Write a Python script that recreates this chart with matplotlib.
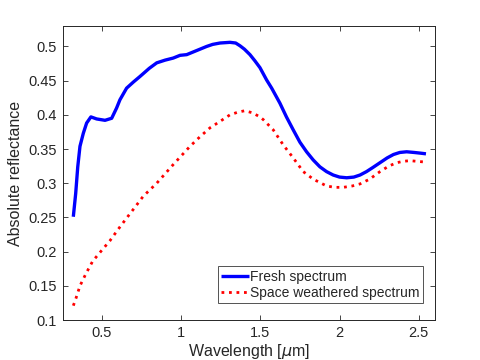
import matplotlib
matplotlib.use("Agg")
import matplotlib.pyplot as plt
from matplotlib.ticker import FuncFormatter

# Values
fresh_wl = [0.321, 0.336, 0.349, 0.363, 0.384, 0.405, 0.432, 0.468, 0.521,
            0.563, 0.594, 0.615, 0.657, 0.70, 0.741, 0.80, 0.847, 0.90,
            0.951, 0.994, 1.036, 1.078, 1.12, 1.162, 1.20, 1.246, 1.309,
            1.345, 1.372, 1.40, 1.435, 1.466, 1.498, 1.54, 1.572, 1.624,
            1.665, 1.708, 1.75, 1.792, 1.834, 1.876, 1.918, 1.96, 2.00,
            2.045, 2.09, 2.129, 2.17, 2.21, 2.255, 2.30, 2.34, 2.38,
            2.423, 2.47, 2.51, 2.545]
fresh_refl = [0.251, 0.285, 0.324, 0.354, 0.373, 0.388, 0.397, 0.394, 0.392,
              0.395, 0.410, 0.422, 0.439, 0.448, 0.456, 0.468, 0.476, 0.480,
              0.483, 0.487, 0.488, 0.492, 0.496, 0.500, 0.503, 0.505, 0.506,
              0.505, 0.501, 0.496, 0.488, 0.479, 0.469, 0.451, 0.439, 0.417,
              0.397, 0.378, 0.360, 0.346, 0.334, 0.324, 0.317, 0.312, 0.309,
              0.308, 0.309, 0.312, 0.317, 0.323, 0.330, 0.337, 0.342, 0.345,
              0.346, 0.345, 0.344, 0.343]

weathered_wl = [0.321, 0.338, 0.363, 0.401, 0.443, 0.497, 0.552, 0.605, 0.657,
                0.71, 0.762, 0.847, 0.95, 1.057, 1.12, 1.183, 1.25, 1.309,
                1.36, 1.403, 1.45, 1.498, 1.519, 1.582, 1.645, 1.708, 1.771,
                1.834, 1.918, 1.97, 2.023, 2.08, 2.129, 2.19, 2.255, 2.31,
                2.36, 2.40, 2.444, 2.49, 2.538]
weathered_refl = [0.121, 0.132, 0.150, 0.168, 0.186, 0.201, 0.216, 0.233, 0.249,
                  0.265, 0.281, 0.300, 0.327, 0.354, 0.368, 0.381, 0.391, 0.400,
                  0.404, 0.406, 0.403, 0.397, 0.393, 0.378, 0.356, 0.337, 0.317,
                  0.306, 0.296, 0.294, 0.294, 0.296, 0.299, 0.306, 0.317, 0.325,
                  0.330, 0.332, 0.333, 0.332, 0.331]

x_ticks = [0.5, 1, 1.5, 2, 2.5]
y_ticks = [0.1, 0.15, 0.2, 0.25, 0.3, 0.35, 0.4, 0.45, 0.5]

plt.rcParams["font.family"] = ["Liberation Sans", "DejaVu Sans"]
text_color = "#262626"

fig = plt.figure(figsize=(4.8, 3.6), dpi=100)
ax = fig.add_axes([0.1306, 0.111, 0.775, 0.817])

ax.plot(fresh_wl, fresh_refl, color="#0000ff", linewidth=2.4,
        label="Fresh spectrum", solid_capstyle="butt", solid_joinstyle="round")
ax.plot(weathered_wl, weathered_refl, color="#ff0000", linewidth=2.0,
        linestyle=(0, (1, 1.7)), dash_capstyle="butt",
        label="Space weathered spectrum")

ax.set_xlim(0.254, 2.6)
ax.set_ylim(0.1, 0.53)
ax.set_xticks(x_ticks)
ax.set_yticks(y_ticks)
ax.xaxis.set_major_formatter(FuncFormatter(lambda v, p: f"{v:g}"))
ax.yaxis.set_major_formatter(FuncFormatter(lambda v, p: f"{v:g}"))

ax.tick_params(direction="in", top=True, right=True, length=3.5, width=0.6,
               colors=text_color, labelsize=10.5, labelcolor=text_color, pad=4)
for sp in ax.spines.values():
    sp.set_color(text_color)
    sp.set_linewidth(0.7)

ax.set_xlabel(r"Wavelength [$\mu$m]", fontsize=11.5, color=text_color, labelpad=2)
ax.set_ylabel("Absolute reflectance", fontsize=11.5, color=text_color, labelpad=4)

leg = ax.legend(loc="lower right", bbox_to_anchor=(0.969, 0.057), fontsize=10,
                frameon=True, fancybox=False, handlelength=2.0,
                handletextpad=0.1, borderpad=0.25, labelspacing=0.15,
                borderaxespad=0)
leg.get_frame().set_edgecolor(text_color)
leg.get_frame().set_linewidth(0.7)
for t in leg.get_texts():
    t.set_color(text_color)

fig.savefig("out.png", dpi=100)
